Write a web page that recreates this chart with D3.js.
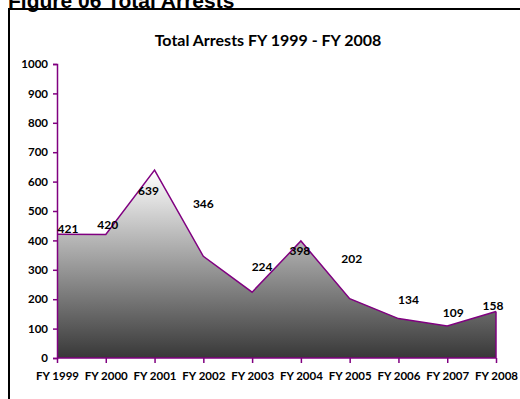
<!DOCTYPE html>
<html><head><meta charset="utf-8">
<script src="https://cdn.jsdelivr.net/npm/d3@7/dist/d3.min.js"></script>
<style>body{margin:0;background:#fff;} svg{display:block;}</style>
</head><body>
<svg id="c" width="520" height="399"></svg>
<script>
const categories = ["FY 1999","FY 2000","FY 2001","FY 2002","FY 2003","FY 2004","FY 2005","FY 2006","FY 2007","FY 2008"];
const arrests = [421,420,639,346,224,398,202,134,109,158];
const yTicks = [0,100,200,300,400,500,600,700,800,900,1000];
// label nudges (pixels) relative to each point, as placed in the reference
const labelDx = [11,2,-6,0,10,-1,2,10,6,-3];
const labelDy = [-5,-10,21,-52,-25,10,-40,-19,-13,-6];

const svg = d3.select("#c");
const purple = "#800080";
const font = "Lato, 'Liberation Sans', Arial, sans-serif";

// heading (cut off at top in the reference)
svg.append("text").attr("x",8).attr("y",8).attr("font-family","'Liberation Sans', Arial, sans-serif")
  .attr("font-weight","bold").attr("font-size",21).attr("fill","#000").text("Figure 06 Total Arrests");

// frame
svg.append("path").attr("d","M9,400 V9 H522").attr("fill","none").attr("stroke","#000").attr("stroke-width",2);

svg.append("text").attr("x",268).attr("y",46).attr("text-anchor","middle").attr("font-family",font)
  .attr("font-size",16).attr("font-weight","bold").attr("fill","#000").text("Total Arrests FY 1999 - FY 2008");

const x = d3.scalePoint().domain(categories).range([57,496]);
const y = d3.scaleLinear().domain([0,1000]).range([358,64]);

const defs = svg.append("defs");
const g = defs.append("linearGradient").attr("id","gr").attr("x1",0).attr("y1",0).attr("x2",0).attr("y2",1);
g.append("stop").attr("offset","0%").attr("stop-color","#ffffff");
g.append("stop").attr("offset","100%").attr("stop-color","#383838");

const area = d3.area().x((d,i)=>x(categories[i])).y0(y(0)).y1(d=>y(d));
svg.append("path").datum(arrests).attr("d",area).attr("fill","url(#gr)");
const line = d3.line().x((d,i)=>x(categories[i])).y(d=>y(d));
svg.append("path").datum(arrests).attr("d",line).attr("fill","none").attr("stroke",purple).attr("stroke-width",1.5);
svg.append("line").attr("x1",x(categories[9])).attr("x2",x(categories[9])).attr("y1",y(arrests[9])).attr("y2",y(0))
  .attr("stroke",purple).attr("stroke-width",1.5);

// y axis
const ya = svg.append("g").attr("transform","translate(57,0)")
  .call(d3.axisLeft(y).tickValues(yTicks).tickFormat(d3.format("d")).tickSize(4).tickPadding(5));
ya.select(".domain").attr("stroke",purple).attr("stroke-width",1.5);
ya.selectAll(".tick line").attr("stroke",purple).attr("stroke-width",1.5);
ya.selectAll("text").attr("font-family",font).attr("font-size",11.5).attr("font-weight","bold").attr("fill","#000");

// x axis
const xa = svg.append("g").attr("transform","translate(0,358)")
  .call(d3.axisBottom(x).tickSize(5).tickSizeOuter(0).tickPadding(9));
xa.select(".domain").attr("stroke",purple).attr("stroke-width",1.5).attr("d","M57,0H496");
xa.selectAll(".tick line").attr("stroke",purple).attr("stroke-width",1.5);
xa.selectAll("text").attr("font-family",font).attr("font-size",11.5).attr("font-weight","bold").attr("fill","#000");

// data labels
svg.append("g").selectAll("text").data(arrests).join("text")
  .attr("x",(d,i)=>x(categories[i])+labelDx[i])
  .attr("y",(d,i)=>y(d)+labelDy[i])
  .attr("dy","0.35em").attr("text-anchor","middle")
  .attr("font-family",font).attr("font-size",12).attr("font-weight","bold").attr("fill","#000")
  .text(d=>d);
</script>
</body></html>
